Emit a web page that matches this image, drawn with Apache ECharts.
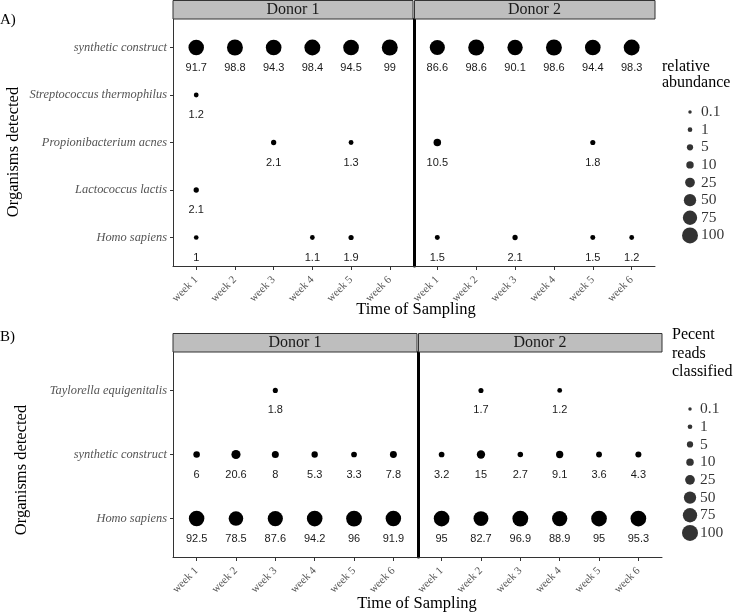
<!DOCTYPE html>
<html>
<head>
<meta charset="utf-8">
<script src="https://cdn.jsdelivr.net/npm/echarts@6/dist/echarts.min.js"></script>
<style>html,body{margin:0;padding:0;background:#fff}#c{width:734px;height:615px}</style>
</head>
<body>
<div id="c"></div>
<script>
// ---------- data ----------
const weeks = ['week 1','week 2','week 3','week 4','week 5','week 6'];
const donors = ['Donor 1','Donor 2'];
const speciesA = ['synthetic construct','Streptococcus thermophilus','Propionibacterium acnes','Lactococcus lactis','Homo sapiens'];
const speciesB = ['Taylorella equigenitalis','synthetic construct','Homo sapiens'];
// Panel A (relative abundance), rows = speciesA, columns = weeks
const A_donor1 = [
  [91.7, 98.8, 94.3, 98.4, 94.5, 99],
  [1.2, null, null, null, null, null],
  [null, null, 2.1, null, 1.3, null],
  [2.1, null, null, null, null, null],
  [1, null, null, 1.1, 1.9, null]
];
const A_donor2 = [
  [86.6, 98.6, 90.1, 98.6, 94.4, 98.3],
  [null, null, null, null, null, null],
  [10.5, null, null, null, 1.8, null],
  [null, null, null, null, null, null],
  [1.5, null, 2.1, null, 1.5, 1.2]
];
// Panel B (percent reads classified)
const B_donor1 = [
  [null, null, 1.8, null, null, null],
  [6, 20.6, 8, 5.3, 3.3, 7.8],
  [92.5, 78.5, 87.6, 94.2, 96, 91.9]
];
const B_donor2 = [
  [null, 1.7, null, 1.2, null, null],
  [3.2, 15, 2.7, 9.1, 3.6, 4.3],
  [95, 82.7, 96.9, 88.9, 95, 95.3]
];
const legendValues = [0.1, 1, 5, 10, 25, 50, 75, 100];
const legendTitleA = ['relative', 'abundance'];
const legendTitleB = ['Pecent', 'reads', 'classified'];

// ---------- helpers ----------
const SERIF = '"Liberation Serif", "DejaVu Serif", serif';
const SANS = '"Liberation Sans", Arial, sans-serif';
function sizeOf(v){ return 3.5 + 12.5 * Math.sqrt(Math.max(0, (v - 0.1) / 99.9)); }
function toPoints(matrix){
  const out = [];
  matrix.forEach((row, r) => row.forEach((v, c) => { if (v != null) out.push([c + 1, r + 1, v]); }));
  return out;
}

const grids = [
  {left:173, top:19, width:240, height:247},   // A donor 1
  {left:414, top:19, width:241, height:247},   // A donor 2
  {left:173, top:352, width:244, height:205},  // B donor 1
  {left:418, top:352, width:244, height:205},  // B donor 2
  {left:682, top:103.2, width:16, height:141}, // legend A
  {left:682, top:400.2, width:16, height:141.6} // legend B
];
const panelSpecies = [speciesA, speciesA, speciesB, speciesB];
const panelData = [A_donor1, A_donor2, B_donor1, B_donor2];

const xAxes = [], yAxes = [], series = [];
for (let i = 0; i < 4; i++) {
  const sp = panelSpecies[i];
  xAxes.push({
    type:'value', gridIndex:i, min:0.4, max:6.6,
    axisLine:{show:true, lineStyle:{color:'#333', width:1}},
    axisTick:{show:true, length:4, lineStyle:{color:'#333'}, customValues:[1,2,3,4,5,6]},
    axisLabel:{show:true, rotate:45, margin:12, fontFamily:SERIF, fontSize:11, color:'#555',
      customValues:[1,2,3,4,5,6], formatter:(v)=>weeks[Math.round(v)-1] || ''},
    splitLine:{show:false}
  });
  const left = (i % 2 === 0);
  yAxes.push({
    type:'value', gridIndex:i, min:0.4, max:sp.length + 0.6, inverse:true,
    axisLine:{show:true, lineStyle:{color: left ? '#333' : '#000', width: left ? 1 : 3}},
    axisTick:{show:left, length:3, lineStyle:{color:'#333'}, customValues: sp.map((s,k)=>k+1)},
    axisLabel:{show:left, margin:6, fontFamily:SERIF, fontStyle:'italic', fontSize:12.4, color:'#555',
      customValues: sp.map((s,k)=>k+1), formatter:(v)=>sp[Math.round(v)-1] || ''},
    splitLine:{show:false}
  });
  series.push({
    type:'scatter', xAxisIndex:i, yAxisIndex:i,
    data: toPoints(panelData[i]),
    symbolSize:(d)=>sizeOf(d[2]),
    itemStyle:{color:'#000', opacity:1},
    label:{show:true, position:'inside', offset:[0,20], formatter:(p)=>String(p.value[2]),
      fontFamily:SANS, fontSize:11, color:'#1a1a1a'},
    emphasis:{disabled:true}, silent:true
  });
}
// legends drawn as scatter on their own axes
for (let j = 0; j < 2; j++) {
  const gi = 4 + j;
  xAxes.push({type:'value', gridIndex:gi, min:-1, max:1, show:false});
  yAxes.push({type:'category', gridIndex:gi, data:legendValues.map(String), inverse:true, show:false});
  series.push({
    type:'scatter', xAxisIndex:gi, yAxisIndex:gi,
    data: legendValues.map(v => [0, String(v), v]),
    symbolSize:(d)=>sizeOf(d[2]),
    itemStyle:{color:'#000'},
    label:{show:true, position:'inside', offset:[10 + (j===0?1:0),0], align:'left', verticalAlign:'middle',
      formatter:(p)=>String(p.value[2]), fontFamily:SERIF, fontSize:15.5, color:'#000'},
    emphasis:{disabled:true}, silent:true
  });
}

// strips, titles, panel letters
const graphic = [];
for (let i = 0; i < 4; i++) {
  const g = grids[i];
  const top = g.top - 18.5;
  graphic.push({type:'rect', shape:{x:g.left + (i%2===1 ? 0.5 : 0), y:top, width:g.width - (i%2===1?0.5:0), height:18.5},
    style:{fill:'#bebebe', stroke:'#333', lineWidth:1}, z:10});
  graphic.push({type:'text', x:g.left + g.width/2, y:top + 9.5,
    style:{text:donors[i%2], font:'16px ' + SERIF, fill:'#1a1a1a', align:'center', verticalAlign:'middle'}, z:11});
}
graphic.push({type:'text', x:416, y:310, style:{text:'Time of Sampling', font:'16.5px '+SERIF, fill:'#000', align:'center', verticalAlign:'middle'}});
graphic.push({type:'text', x:417, y:604, style:{text:'Time of Sampling', font:'16.5px '+SERIF, fill:'#000', align:'center', verticalAlign:'middle'}});
graphic.push({type:'text', x:14, y:152, rotation:Math.PI/2, style:{text:'Organisms detected', font:'16.5px '+SERIF, fill:'#000', align:'center', verticalAlign:'middle'}});
graphic.push({type:'text', x:22, y:470, rotation:Math.PI/2, style:{text:'Organisms detected', font:'16.5px '+SERIF, fill:'#000', align:'center', verticalAlign:'middle'}});
graphic.push({type:'text', x:0, y:20, style:{text:'A)', font:'15px '+SERIF, fill:'#000', align:'left', verticalAlign:'middle'}});
graphic.push({type:'text', x:0, y:337, style:{text:'B)', font:'15px '+SERIF, fill:'#000', align:'left', verticalAlign:'middle'}});
legendTitleA.forEach((t,k)=>graphic.push({type:'text', x:662, y:67 + k*16, style:{text:t, font:'16px '+SERIF, fill:'#000', align:'left', verticalAlign:'middle'}}));
legendTitleB.forEach((t,k)=>graphic.push({type:'text', x:672, y:335 + k*18.5, style:{text:t, font:'16px '+SERIF, fill:'#000', align:'left', verticalAlign:'middle'}}));

const chart = echarts.init(document.getElementById('c'), null, {renderer:'canvas'});
chart.setOption({
  animation:false,
  backgroundColor:'#fff',
  grid: grids.map(g => Object.assign({containLabel:false}, g)),
  xAxis: xAxes,
  yAxis: yAxes,
  series: series,
  graphic: graphic
});
</script>
</body>
</html>
